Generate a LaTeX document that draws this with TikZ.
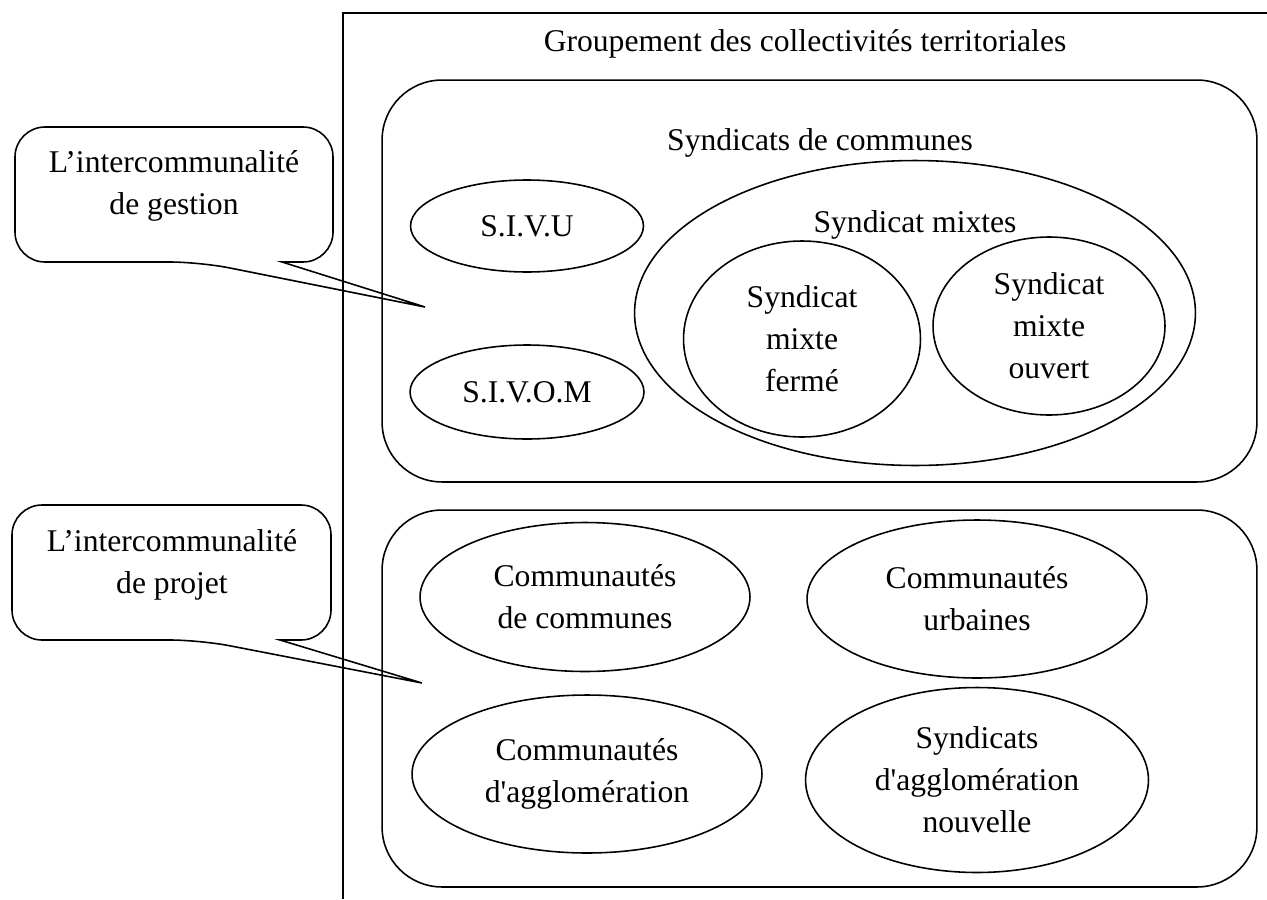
\documentclass[tikz,border=0pt]{standalone}
\usepackage{fontspec}
\setmainfont{Liberation Serif}[Ligatures=TeXOff]
\usetikzlibrary{shapes.geometric}

\begin{document}
\begin{tikzpicture}[x=0.02cm,y=-0.02cm,
  grpbox/.style={draw,rounded corners=1.2cm,line width=0.9pt,inner sep=0pt},
  grpell/.style={draw,ellipse,inner sep=0pt,line width=0.9pt,align=center},
  grptxt/.style={align=center,inner sep=0pt},
  bulle/.style={draw,rounded corners=0.6cm,line width=0.9pt},
  font=\fontsize{18}{24}\selectfont
]
  \useasboundingbox (0,0) rectangle (1267,899);
  % Cadre general
  \draw[line width=0.9pt] (1267,13) -- (343,13) -- (343,899);
  \node[grptxt] (titre) at (805,44) {Groupement des collectivités territoriales};
  % Intercommunalite de gestion
  \node[grpbox,minimum width=17.5cm,minimum height=8.04cm] (gestion) at (819.5,281) {};
  \node[grptxt] (syndcom) at (820,143) {Syndicats de communes};
  \node[grpell,minimum width=4.66cm,minimum height=1.84cm] (sivu) at (527,226) {S.I.V.U};
  \node[grpell,minimum width=4.68cm,minimum height=1.88cm] (sivom) at (527,392) {S.I.V.O.M};
  \node[grpell,minimum width=11.22cm,minimum height=6.1cm] (mixtes) at (915,313) {};
  \node[grptxt] (mixtestxt) at (915,225) {Syndicat mixtes};
  \node[grpell,minimum width=4.74cm,minimum height=3.92cm] (ferme) at (802,339) {Syndicat\\mixte\\fermé};
  \node[grpell,minimum width=4.64cm,minimum height=3.56cm] (ouvert) at (1049,326) {Syndicat\\mixte\\ouvert};
  % Intercommunalite de projet
  \node[grpbox,minimum width=17.5cm,minimum height=7.54cm] (projet) at (819.5,698.5) {};
  \node[grpell,minimum width=6.6cm,minimum height=2.98cm] (cc) at (585,597) {Communautés\\de communes};
  \node[grpell,minimum width=6.8cm,minimum height=3.16cm] (cu) at (977,599) {Communautés\\urbaines};
  \node[grpell,minimum width=7.0cm,minimum height=3.16cm] (ca) at (587,774) {Communautés\\d'agglomération};
  \node[grpell,minimum width=6.86cm,minimum height=3.7cm] (san) at (977,780) {Syndicats\\d'agglomération\\nouvelle};
  % Bulles
  \node[grptxt] (bgestion) at (174,186) {L’intercommunalité\\de gestion};
  \coordinate (pgestion) at (425,307);
  \draw[bulle] (282,262) -- (333,262) -- (333,127) -- (15,127) -- (15,262) -- (200,262)
    [sharp corners] -- (pgestion) -- cycle;
  \node[grptxt] (bprojet) at (172,565) {L’intercommunalité\\de projet};
  \coordinate (pprojet) at (422,683);
  \draw[bulle] (280,640) -- (331,640) -- (331,505) -- (12,505) -- (12,640) -- (200,640)
    [sharp corners] -- (pprojet) -- cycle;
\end{tikzpicture}
\end{document}
